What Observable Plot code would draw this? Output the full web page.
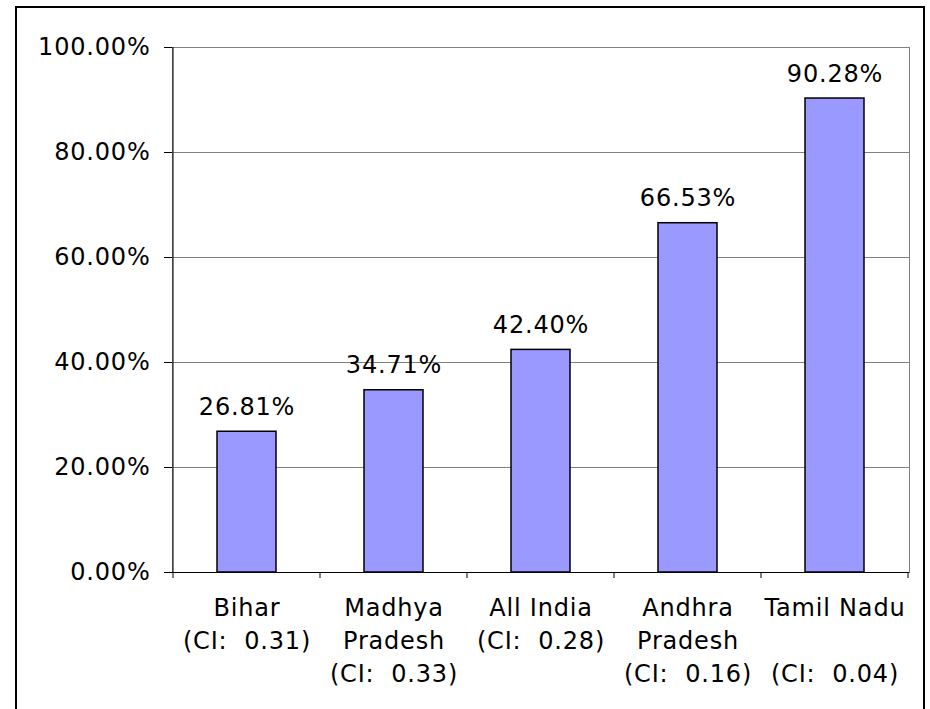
<!DOCTYPE html>
<html>
<head>
<meta charset="utf-8">
<script src="https://cdn.jsdelivr.net/npm/d3@7"></script>
<script src="https://cdn.jsdelivr.net/npm/@observablehq/plot@0.6"></script>
<style>
  html, body { margin: 0; padding: 0; width: 930px; height: 709px; overflow: hidden; background: #fff; }
  #wrap { position: relative; width: 930px; height: 709px; }
  #border { position: absolute; left: 15px; top: 6px; width: 910px; height: 720px; border: 2px solid #000; box-sizing: border-box; pointer-events: none; }
  #chart { position: absolute; left: 0; top: 0; }
  svg text { white-space: pre; letter-spacing: 0.8px; }
</style>
</head>
<body>
<div id="wrap">
  <div id="chart"></div>
  <div id="border"></div>
</div>
<script>
// Data
const states = ["Bihar", "Madhya\nPradesh", "All India", "Andhra\nPradesh", "Tamil Nadu\n\u00a0"];
const ciValues = [0.31, 0.33, 0.28, 0.16, 0.04];
const shares = [0.2681, 0.3471, 0.4240, 0.6653, 0.9028];
const yTicks = [0, 0.2, 0.4, 0.6, 0.8, 1.0];

const labels = states.map((s, i) => `${s}\n(CI:\u00a0\u00a0${ciValues[i].toFixed(2)})`);
const data = labels.map((label, i) => ({label, value: shares[i]}));

const fmt = d3.format(".2%");

// Custom mark: left axis line and category boundary ticks under the x axis
const bandTicks = (index, scales, values, dimensions) => {
  const x = scales.x;
  const y = scales.y;
  const step = x.step();
  const bw = x.bandwidth();
  const y0 = y(0);
  const g = d3.create("svg:g");
  const edges = labels.map(l => x(l) + bw / 2 - step / 2);
  edges.push(x(labels[labels.length - 1]) + bw / 2 + step / 2);
  g.selectAll("line.t").data(edges).join("line")
    .attr("x1", d => d).attr("x2", d => d)
    .attr("y1", y0).attr("y2", y0 + 6)
    .attr("stroke", "#000");
  g.append("line")
    .attr("x1", edges[0]).attr("x2", edges[0])
    .attr("y1", y(1)).attr("y2", y0)
    .attr("stroke", "#000");
  return g.node();
};

const plot = Plot.plot({
  width: 930,
  height: 709,
  marginLeft: 172,
  marginRight: 21,
  marginTop: 47,
  marginBottom: 137,
  style: {fontFamily: "DejaVu Sans", fontSize: "24px", color: "#000", background: "transparent"},
  x: {domain: labels, paddingInner: 0.6, paddingOuter: 0.3, label: null},
  y: {domain: [0, 1], label: null},
  marks: [
    Plot.gridY(yTicks, {stroke: "#808080", strokeOpacity: 1}),
    Plot.frame({stroke: "#808080"}),
    Plot.barY(data, {x: "label", y: "value", fill: "#9999FF", stroke: "#000", strokeWidth: 1.5}),
    Plot.ruleY([0], {stroke: "#000"}),
    Plot.axisY(yTicks, {tickFormat: fmt, tickSize: 8, tickPadding: 14, fontSize: 24, label: null, stroke: "#000"}),
    Plot.axisX({tickSize: 0, tickPadding: 20, fontSize: 24, lineHeight: 1.375, label: null}),
    Plot.text(data, {x: "label", y: "value", text: d => fmt(d.value), lineAnchor: "bottom", dy: -17, fontSize: 24, fill: "#000"}),
    bandTicks
  ]
});
document.getElementById("chart").appendChild(plot);
</script>
</body>
</html>
